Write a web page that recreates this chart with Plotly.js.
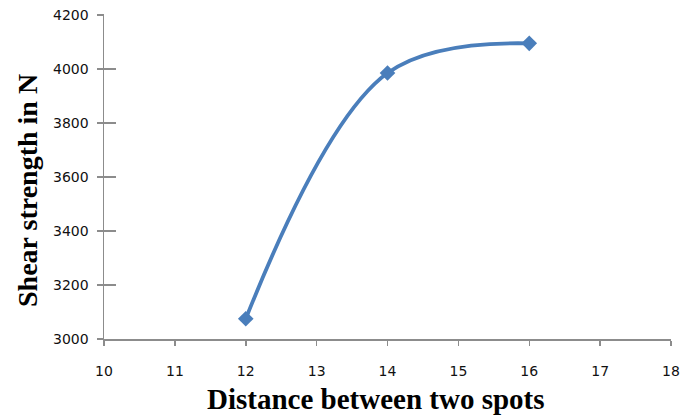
<!DOCTYPE html>
<html>
<head>
<meta charset="utf-8">
<script src="https://cdn.plot.ly/plotly-3.0.1.min.js"></script>
<style>html,body{margin:0;padding:0;background:#fff;}#chart{width:683px;height:415px;}</style>
</head>
<body>
<div id="chart"></div>
<script>
const distance = [12, 14, 16];
const shearStrength = [3075, 3985, 4095];
const xTicks = [10, 11, 12, 13, 14, 15, 16, 17, 18];
const yTicks = [3000, 3200, 3400, 3600, 3800, 4000, 4200];
const xTitle = "Distance between two spots";
const yTitle = "Shear strength in N";

const trace = {
  x: distance, y: shearStrength, type: 'scatter', mode: 'lines+markers',
  line: {shape: 'spline', smoothing: 1.05, color: '#4A7EBB', width: 3.8},
  marker: {symbol: 'diamond', size: 12, color: '#4A7EBB'},
  hoverinfo: 'skip'
};

const axisGrey = '#8C8C8C';
const tickFont = {family: 'DejaVu Sans, Verdana, sans-serif', size: 14, color: '#111'};

const layout = {
  width: 683, height: 415,
  margin: {l: 104, r: 12, t: 15, b: 76, pad: 0},
  paper_bgcolor: '#ffffff', plot_bgcolor: '#ffffff',
  showlegend: false,
  xaxis: {
    range: [10, 18], tickvals: xTicks, ticktext: xTicks.map(String),
    showgrid: false, zeroline: false, showline: true, linecolor: axisGrey, linewidth: 1.5,
    ticks: 'outside', ticklen: 5, tickwidth: 1.5, tickcolor: axisGrey,
    tickfont: tickFont, ticklabelstandoff: 14
  },
  yaxis: {
    range: [3000, 4200], tickvals: yTicks, ticktext: yTicks.map(String),
    showgrid: false, zeroline: false, showline: true, linecolor: axisGrey, linewidth: 1.5,
    ticks: 'inside', ticklen: 12, tickwidth: 1.5, tickcolor: axisGrey,
    tickfont: tickFont, ticklabelstandoff: 11
  },
  yaxis2: {
    range: [3000, 4200], tickvals: yTicks, overlaying: 'y', side: 'left', anchor: 'free', position: 0,
    showgrid: false, zeroline: false, showline: false, showticklabels: false,
    ticks: 'outside', ticklen: 7, tickwidth: 1.5, tickcolor: axisGrey
  },
  annotations: [
    {text: '<b>' + xTitle + '</b>', xref: 'paper', yref: 'paper',
     x: (376 - 104) / 567, y: -(399 - 339) / 324, xanchor: 'center', yanchor: 'middle',
     showarrow: false, font: {family: 'Liberation Serif, Times New Roman, serif', size: 29, color: '#000'}},
    {text: '<b>' + yTitle + '</b>', xref: 'paper', yref: 'paper', textangle: -90,
     x: -(104 - 27) / 567, y: (339 - 191) / 324, xanchor: 'center', yanchor: 'middle',
     showarrow: false, font: {family: 'Liberation Serif, Times New Roman, serif', size: 28, color: '#000'}}
  ]
};

const ghost = {x: [distance[0]], y: [shearStrength[0]], yaxis: 'y2', type: 'scatter', mode: 'markers',
  marker: {opacity: 0}, hoverinfo: 'skip', showlegend: false};

Plotly.newPlot('chart', [ghost, trace], layout, {staticPlot: true, displayModeBar: false});
</script>
</body>
</html>
